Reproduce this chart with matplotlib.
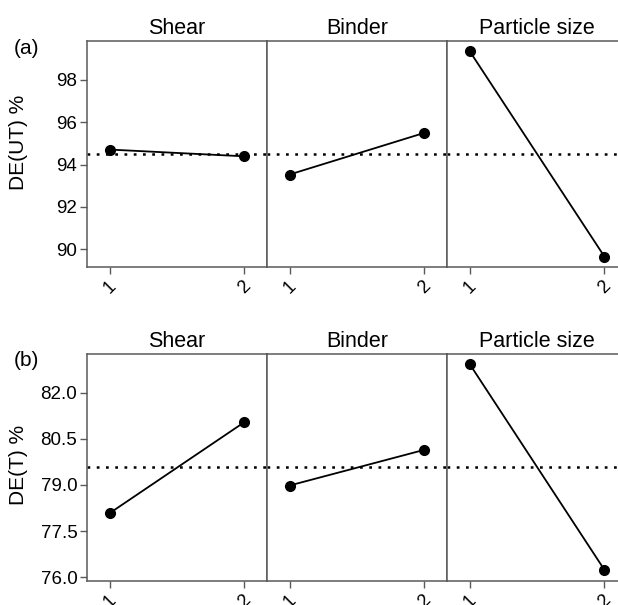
import matplotlib.pyplot as plt

plt.rcParams['font.family'] = ['Liberation Sans', 'DejaVu Sans']

factors = ['Shear', 'Binder', 'Particle size']
levels = [1, 2]

# main effects, one pair of level means per factor
de_ut = [[94.71, 94.39], [93.53, 95.50], [99.37, 89.65]]
de_t = [[78.08, 81.04], [78.98, 80.14], [82.93, 76.24]]
mean_ut = 94.52
mean_t = 79.57

ut_ticks = [90, 92, 94, 96, 98]
t_ticks = [76.0, 77.5, 79.0, 80.5, 82.0]

fig = plt.figure(figsize=(6.18, 6.05), dpi=100)

spine_col = '#5a5a5a'
W, H = 618, 605


def draw_row(top_px, bot_px, data, mean, yticks, ylim, ylabel, tag, fmt, label_y):
    lefts = [87, 267, 447]
    for i, f in enumerate(factors):
        x0 = lefts[i]
        ax = fig.add_axes([x0 / W, 1 - bot_px / H, 180 / W, (bot_px - top_px) / H])
        ax.plot(levels, data[i], color='black', lw=1.3, marker='o', ms=7, zorder=3)
        ax.axhline(mean, color='black', lw=1.8, ls=(0, (1.1, 2.6)), zorder=2)
        ax.set_xlim(0.833, 2.167)
        ax.set_ylim(*ylim)
        ax.set_xticks(levels)
        ax.set_xticklabels([str(v) for v in levels], rotation=45, ha='center', fontsize=13)
        ax.tick_params(axis='x', length=5, width=1, color=spine_col, pad=3)
        for s in ax.spines.values():
            s.set_color(spine_col)
            s.set_linewidth(1.1)
        if i == 0:
            ax.set_yticks(yticks)
            ax.set_yticklabels([fmt.format(v) for v in yticks], fontsize=13.5)
            ax.tick_params(axis='y', length=5, width=1, color=spine_col, pad=2)
            ax.set_ylabel(ylabel, fontsize=15)
            ax.yaxis.set_label_coords(-0.325, label_y)
        else:
            ax.set_yticks([])
        ax.set_title(f, fontsize=15.5, pad=5)
    fig.text(14 / W, 1 - (top_px + 7) / H, tag, fontsize=15, va='center', ha='left')


draw_row(41, 267, de_ut, mean_ut, ut_ticks, (89.16, 99.84), 'DE(UT) %', '(a)', '{:g}', 0.55)
draw_row(354, 581, de_t, mean_t, t_ticks, (75.88, 83.25), 'DE(T) %', '(b)', '{:.1f}', 0.51)

fig.savefig('out.png', dpi=100)
